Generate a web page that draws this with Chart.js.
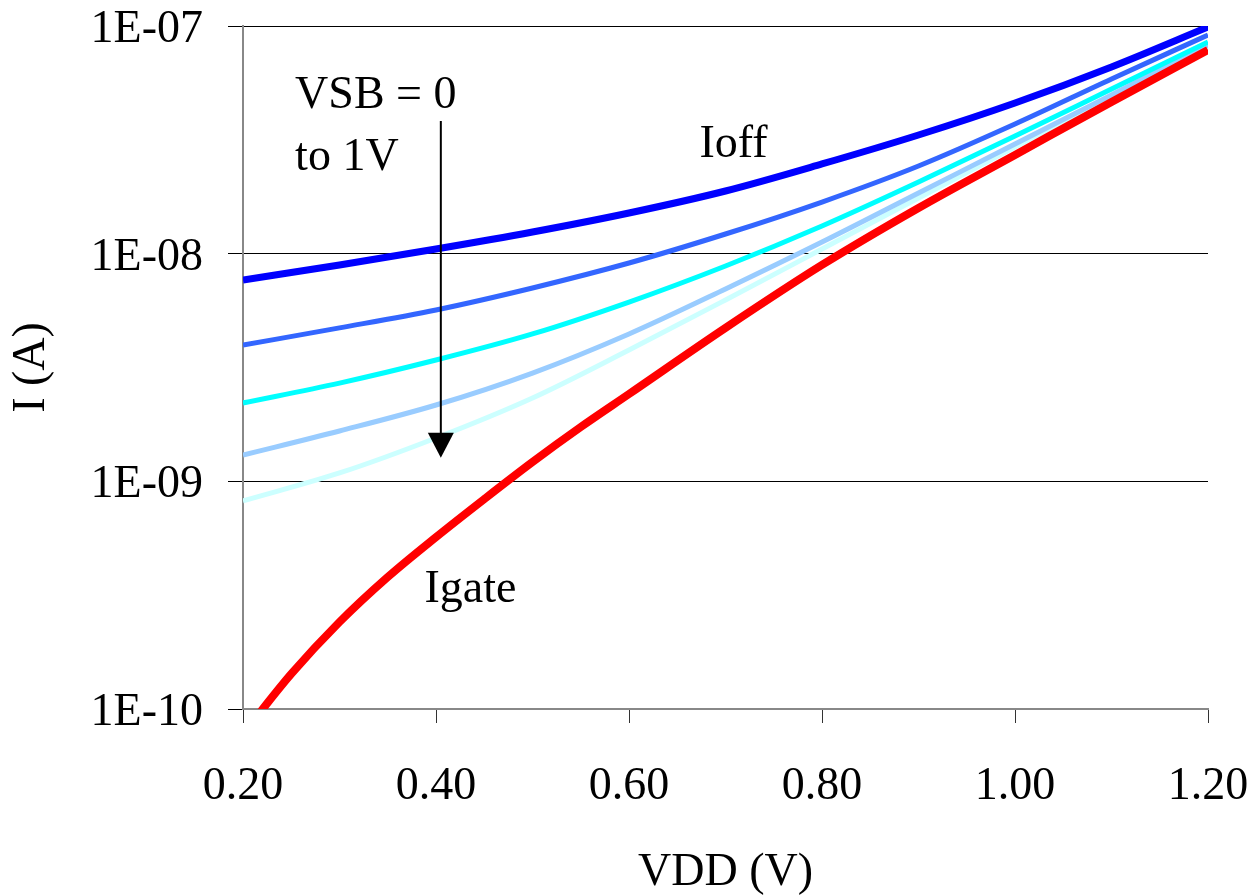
<!DOCTYPE html>
<html lang="en">
<head>
<meta charset="UTF-8">
<title>Ioff and Igate vs VDD</title>
<script src="https://cdn.jsdelivr.net/npm/chart.js"></script>
<style>
    body {
        margin: 0;
        background-color: #ffffff;
    }
    .chart-container {
        position: relative;
        width: 1255px;
        height: 896px;
    }
</style>
</head>
<body>
<div class="chart-container">
    <canvas id="leakageChart"></canvas>
</div>
<script>
    // VDD sweep (V)
    const vdd = [0.2, 0.3, 0.4, 0.5, 0.6, 0.7, 0.8, 0.9, 1.0, 1.1, 1.2];
    const vddGate = [0.2, 0.25, 0.3, 0.35, 0.4, 0.45, 0.5, 0.55, 0.6, 0.7, 0.8, 0.9, 1.0, 1.1, 1.2];

    // Ioff (A), VSB stepped from 0 to 1V
    const ioffVsb0 = [7.66e-9, 8.92e-9, 1.048e-8, 1.245e-8, 1.509e-8, 1.885e-8, 2.477e-8, 3.32e-8, 4.59e-8, 6.61e-8, 9.9e-8];
    const ioffVsb1 = [3.97e-9, 4.72e-9, 5.66e-9, 7.07e-9, 9.10e-9, 1.22e-8, 1.686e-8, 2.427e-8, 3.71e-8, 5.85e-8, 9.13e-8];
    const ioffVsb2 = [2.21e-9, 2.70e-9, 3.41e-9, 4.44e-9, 6.13e-9, 8.83e-9, 1.323e-8, 2.064e-8, 3.286e-8, 5.29e-8, 8.51e-8];
    const ioffVsb3 = [1.305e-9, 1.664e-9, 2.164e-9, 2.99e-9, 4.44e-9, 7.0e-9, 1.125e-8, 1.847e-8, 3.03e-8, 4.98e-8, 8.25e-8];
    const ioffVsb4 = [8.2e-10, 1.088e-9, 1.55e-9, 2.323e-9, 3.775e-9, 6.26e-9, 1.048e-8, 1.756e-8, 2.94e-8, 4.925e-8, 8.17e-8];

    // Igate (A)
    const igate = [7.77e-11, 1.425e-10, 2.41e-10, 3.80e-10, 5.69e-10, 8.36e-10, 1.216e-9, 1.732e-9, 2.418e-9, 4.72e-9, 8.92e-9, 1.587e-8, 2.713e-8, 4.64e-8, 7.84e-8];

    const xTicks = [0.2, 0.4, 0.6, 0.8, 1.0, 1.2];
    const yTicks = [1e-10, 1e-9, 1e-8, 1e-7];
    const yTickLabels = ['1E-10', '1E-09', '1E-08', '1E-07'];

    const FONT = 'Liberation Serif, Times New Roman, serif';

    // annotation text, placed in data units
    const notes = [
        { text: 'VSB = 0', x: 0.254, y: 4.36e-8 },
        { text: 'to 1V', x: 0.254, y: 2.33e-8 },
        { text: 'Ioff', x: 0.673, y: 2.66e-8 },
        { text: 'Igate', x: 0.388, y: 2.95e-10 }
    ];
    const arrow = { x: 0.405, from: 3.83e-8, to: 1.27e-9 };

    function toPoints(xs, ys) {
        return xs.map((x, i) => ({ x: x, y: ys[i] }));
    }

    const annotationPlugin = {
        id: 'notes',
        afterDatasetsDraw(chart) {
            const ctx = chart.ctx;
            const xs = chart.scales.x;
            const ys = chart.scales.y;
            ctx.save();
            // arrow
            const ax = xs.getPixelForValue(arrow.x);
            const ay1 = ys.getPixelForValue(arrow.from);
            const ay2 = ys.getPixelForValue(arrow.to);
            ctx.strokeStyle = '#000';
            ctx.lineWidth = 2;
            ctx.beginPath();
            ctx.moveTo(ax, ay1);
            ctx.lineTo(ax, ay2 - 20);
            ctx.stroke();
            ctx.fillStyle = '#000';
            ctx.beginPath();
            ctx.moveTo(ax - 13, ay2 - 25);
            ctx.lineTo(ax + 13, ay2 - 25);
            ctx.lineTo(ax, ay2);
            ctx.closePath();
            ctx.fill();
            // labels
            ctx.font = '46px ' + FONT;
            ctx.textAlign = 'left';
            ctx.textBaseline = 'alphabetic';
            notes.forEach(n => {
                ctx.fillText(n.text, xs.getPixelForValue(n.x), ys.getPixelForValue(n.y));
            });
            ctx.restore();
        }
    };

    const lineStyle = (label, color, width, pts) => ({
        label: label,
        data: pts,
        borderColor: color,
        backgroundColor: color,
        borderWidth: width,
        pointRadius: 0,
        fill: false,
        cubicInterpolationMode: 'monotone',
        clip: 0
    });

    new Chart(document.getElementById('leakageChart'), {
        type: 'line',
        data: {
            datasets: [
                lineStyle('Igate', '#FF0000', 8, toPoints(vddGate, igate)),
                lineStyle('Ioff VSB=0', '#0000FF', 7, toPoints(vdd, ioffVsb0)),
                lineStyle('Ioff VSB=0.25', '#3366FF', 5, toPoints(vdd, ioffVsb1)),
                lineStyle('Ioff VSB=0.5', '#00FFFF', 5, toPoints(vdd, ioffVsb2)),
                lineStyle('Ioff VSB=0.75', '#99CCFF', 5, toPoints(vdd, ioffVsb3)),
                lineStyle('Ioff VSB=1', '#CCFFFF', 5, toPoints(vdd, ioffVsb4))
            ]
        },
        options: {
            responsive: true,
            maintainAspectRatio: false,
            animation: false,
            layout: { padding: { top: 26, right: 47, bottom: 0, left: 0 } },
            plugins: {
                legend: { display: false },
                tooltip: { enabled: false }
            },
            scales: {
                x: {
                    type: 'linear',
                    min: 0.2,
                    max: 1.2,
                    afterBuildTicks: s => { s.ticks = xTicks.map(v => ({ value: v })); },
                    afterFit: s => {
                        s.height = 187;
                        s.paddingLeft = 0;
                        s.paddingRight = 0;
                    },
                    ticks: {
                        color: '#000',
                        padding: 41,
                        maxRotation: 0,
                        font: { family: FONT, size: 46, lineHeight: 1.0 },
                        callback: v => Number(v).toFixed(2)
                    },
                    grid: {
                        drawOnChartArea: false,
                        tickLength: 14,
                        tickColor: '#333',
                        tickWidth: 1
                    },
                    border: { color: '#888', width: 2 },
                    title: {
                        display: true,
                        text: 'VDD (V)',
                        color: '#000',
                        font: { family: FONT, size: 46, lineHeight: 1.0 },
                        padding: { top: 0, bottom: 0 }
                    }
                },
                y: {
                    type: 'logarithmic',
                    min: 1e-10,
                    max: 1e-7,
                    afterBuildTicks: s => { s.ticks = yTicks.map(v => ({ value: v })); },
                    afterFit: s => {
                        s.width = 243;
                        s.paddingTop = 0;
                        s.paddingBottom = 0;
                    },
                    ticks: {
                        color: '#000',
                        padding: 25,
                        labelOffset: 4,
                        font: { family: FONT, size: 46, lineHeight: 1.0 },
                        callback: v => yTickLabels[yTicks.indexOf(v)] ?? ''
                    },
                    grid: {
                        color: '#000',
                        lineWidth: 1,
                        tickLength: 15
                    },
                    border: { color: '#888', width: 2 },
                    title: {
                        display: true,
                        text: 'I (A)',
                        color: '#000',
                        font: { family: FONT, size: 46, lineHeight: 1.0 },
                        padding: { top: 9, bottom: 0 }
                    }
                }
            }
        },
        plugins: [annotationPlugin]
    });
</script>
</body>
</html>
